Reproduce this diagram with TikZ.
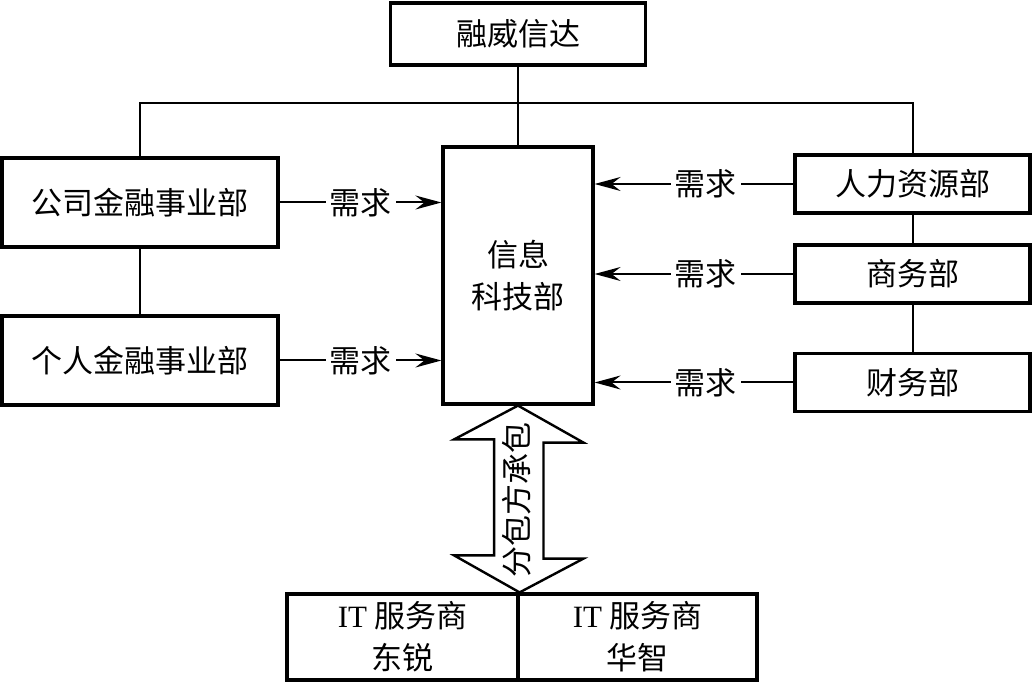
\documentclass[tikz,border=0pt]{standalone}
\usepackage{fontspec}
\setmainfont{Noto Sans CJK SC}
\newfontfamily\lat{Liberation Serif}
\usetikzlibrary{arrows.meta}
\begin{document}
\begin{tikzpicture}[x=0.5pt,y=-0.5pt,
 box/.style={draw,line width=1.6pt,inner sep=0pt,align=center,font=\fontsize{15.5}{21}\selectfont},
 link/.style={line width=1pt},
 need/.style={line width=1pt,-{Stealth[length=13pt,width=7pt,inset=4.5pt]}},
 lbl/.style={fill=white,inner sep=2pt,font=\fontsize{15.5}{18}\selectfont}]
 \useasboundingbox (0,0) rectangle (1032,683);
 % boxes
 \node[box,minimum width=127.5pt,minimum height=31pt] (rw) at (518,34) {融威信达};
 \node[box,minimum width=75pt,minimum height=128.5pt] (it) at (518,275.5) {信息\\科技部};
 \node[box,minimum width=138pt,minimum height=44.5pt] (corp) at (140,202.5) {公司金融事业部};
 \node[box,minimum width=138pt,minimum height=44.5pt] (pers) at (140,360.5) {个人金融事业部};
 \node[box,minimum width=117.5pt,minimum height=29pt] (hr) at (912.5,184) {人力资源部};
 \node[box,minimum width=117.5pt,minimum height=29pt] (biz) at (912.5,274) {商务部};
 \node[box,minimum width=117.5pt,minimum height=29pt] (fin) at (912.5,382.5) {财务部};
 \node[box,minimum width=115.5pt,minimum height=43pt] (dr) at (402.5,637) {{\lat IT} 服务商\\东锐};
 \node[box,minimum width=119.5pt,minimum height=43pt] (hz) at (637.5,637) {{\lat IT} 服务商\\华智};
 % tree lines
 \coordinate (bus) at (518,103);
 \draw[link] (rw.south) -- (it.north);
 \draw[link] (corp.north) |- (bus) -| (hr.north);
 \draw[link] (corp) -- (pers);
 \draw[link] (hr) -- (biz);
 \draw[link] (biz) -- (fin);
 % demands
 \draw[need] (corp.east) -- node[lbl]{需求} (corp.east -| it.west);
 \draw[need] (pers.east) -- node[lbl]{需求} (pers.east -| it.west);
 \draw[need] (hr.west) -- node[lbl,pos=0.44]{需求} (hr.west -| it.east);
 \draw[need] (biz.west) -- node[lbl,pos=0.44]{需求} (biz.west -| it.east);
 \draw[need] (fin.west) -- node[lbl,pos=0.44]{需求} (fin.west -| it.east);
 % subcontract
 \draw[line width=1.2pt,line join=miter] (it.south) -- ++(65.5,37) -- ++(-40,0) -- ++(0,116) -- ++(40,0)
   -- (dr.north east) -- ++(-65.5,-37) -- ++(40,0) -- ++(0,-116) -- ++(-40,0) -- cycle;
 \node[rotate=90,inner sep=0pt,font=\fontsize{15.5}{18}\selectfont] (sub) at (517,499.5) {分包方承包};
\end{tikzpicture}
\end{document}
